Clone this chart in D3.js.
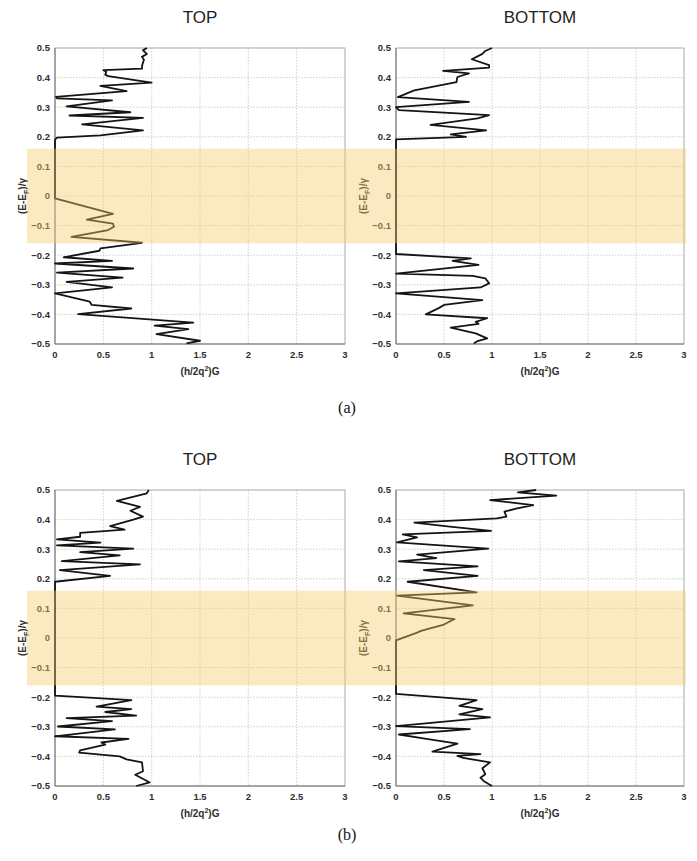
<!DOCTYPE html>
<html>
<head>
<meta charset="utf-8">
<script src="https://cdn.jsdelivr.net/npm/d3@7"></script>
<style>
  html, body { margin: 0; padding: 0; background: #fff; }
  svg { display: block; }
</style>
</head>
<body>
<svg id="chart" width="697" height="861"></svg>
<script>
// ---------- DATA ([E, G] pairs, top to bottom) ----------
const panelTitles = ["TOP", "BOTTOM", "TOP", "BOTTOM"];
const figureLabels = ["(a)", "(b)"];
const xTicks = [0, 0.5, 1, 1.5, 2, 2.5, 3];
const yTicks = [0.5, 0.4, 0.3, 0.2, 0.1, 0, -0.1, -0.2, -0.3, -0.4, -0.5];
const bandRange = [0.16, -0.16];

const aTop = [
  [0.500,0.95],[0.492,0.91],[0.480,0.95],[0.470,0.90],[0.460,0.92],[0.440,0.90],[0.430,0.90],
  [0.425,0.50],[0.420,0.53],[0.410,0.52],[0.405,0.55],[0.383,1.00],[0.372,0.47],[0.354,0.74],
  [0.335,0.01],[0.330,0.02],[0.323,0.59],[0.303,0.12],[0.283,0.78],[0.272,0.15],[0.264,0.91],
  [0.242,0.28],[0.222,0.91],[0.205,0.47],[0.197,0.02],[0.190,0.00],[-0.008,0.00],[-0.060,0.60],
  [-0.080,0.33],[-0.093,0.60],[-0.104,0.61],[-0.115,0.55],[-0.138,0.17],[-0.158,0.90],[-0.177,0.47],
  [-0.185,0.46],[-0.207,0.09],[-0.219,0.59],[-0.228,0.00],[-0.245,0.81],[-0.259,0.02],[-0.276,0.70],
  [-0.290,0.12],[-0.309,0.59],[-0.329,0.00],[-0.357,0.36],[-0.368,0.38],[-0.380,0.79],[-0.399,0.24],
  [-0.428,1.43],[-0.438,1.03],[-0.450,1.38],[-0.467,1.05],[-0.489,1.50],[-0.498,1.36]
];
const aBottom = [
  [0.500,1.00],[0.490,0.93],[0.480,0.90],[0.462,0.79],[0.442,0.97],[0.434,0.97],[0.423,0.49],
  [0.414,0.76],[0.402,0.64],[0.385,0.63],[0.357,0.19],[0.334,0.02],[0.318,0.76],[0.300,0.00],
  [0.290,0.03],[0.273,0.97],[0.262,0.85],[0.240,0.36],[0.222,0.94],[0.208,0.57],[0.200,0.73],
  [0.191,0.00],[-0.196,0.00],[-0.211,0.78],[-0.219,0.59],[-0.233,0.86],[-0.262,0.00],[-0.270,0.80],
  [-0.278,0.93],[-0.295,0.97],[-0.309,0.88],[-0.329,0.00],[-0.352,0.90],[-0.368,0.50],[-0.378,0.45],
  [-0.400,0.31],[-0.413,0.95],[-0.425,0.83],[-0.432,0.86],[-0.445,0.57],[-0.464,0.83],[-0.481,0.95],
  [-0.490,0.85],[-0.498,0.81]
];
const bTop = [
  [0.500,0.97],[0.489,0.95],[0.463,0.64],[0.443,0.88],[0.430,0.78],[0.410,0.91],[0.400,0.81],
  [0.378,0.57],[0.366,0.72],[0.355,0.26],[0.342,0.26],[0.333,0.02],[0.322,0.47],[0.313,0.02],
  [0.302,0.81],[0.290,0.26],[0.279,0.67],[0.260,0.07],[0.249,0.88],[0.229,0.05],[0.210,0.57],
  [0.190,0.00],[-0.195,0.00],[-0.210,0.79],[-0.232,0.43],[-0.240,0.79],[-0.250,0.52],[-0.262,0.84],
  [-0.271,0.12],[-0.281,0.59],[-0.299,0.03],[-0.309,0.62],[-0.332,0.00],[-0.341,0.76],[-0.353,0.48],
  [-0.360,0.52],[-0.380,0.26],[-0.387,0.25],[-0.400,0.67],[-0.410,0.74],[-0.420,0.90],[-0.450,0.91],
  [-0.462,0.83],[-0.488,0.98],[-0.500,0.84]
];
const bBottom = [
  [0.500,1.46],[0.492,1.27],[0.481,1.67],[0.466,0.98],[0.449,1.43],[0.437,1.25],[0.427,1.13],
  [0.410,1.15],[0.404,1.05],[0.390,0.19],[0.376,0.56],[0.362,0.99],[0.350,0.07],[0.340,0.22],
  [0.323,0.01],[0.302,0.96],[0.282,0.22],[0.270,0.42],[0.259,0.03],[0.242,0.85],[0.229,0.29],
  [0.210,0.85],[0.190,0.12],[0.154,0.84],[0.143,0.01],[0.110,0.80],[0.083,0.08],[0.064,0.61],
  [0.044,0.49],[0.024,0.26],[0.018,0.22],[-0.008,0.00],[-0.189,0.00],[-0.210,0.84],[-0.229,0.66],
  [-0.240,0.90],[-0.258,0.66],[-0.268,0.98],[-0.298,0.00],[-0.308,0.77],[-0.326,0.03],[-0.340,0.30],
  [-0.357,0.64],[-0.384,0.38],[-0.392,0.88],[-0.398,0.64],[-0.405,0.70],[-0.420,0.98],[-0.440,0.90],
  [-0.460,0.93],[-0.472,0.88],[-0.485,0.92],[-0.500,1.00]
];
const panelData = [aTop, aBottom, bTop, bBottom];

// ---------- LAYOUT ----------
const svg = d3.select("#chart");
const H = 296;
const panels = [
  { x0: 55,  y0: 48,  w: 290 },
  { x0: 396, y0: 48,  w: 288 },
  { x0: 55,  y0: 490, w: 290 },
  { x0: 396, y0: 490, w: 288 }
];
const sansFont = "'Liberation Sans', Arial, Helvetica, sans-serif";

const scales = panels.map(p => ({
  x: d3.scaleLinear().domain([0, 3]).range([p.x0, p.x0 + p.w]),
  y: d3.scaleLinear().domain([-0.5, 0.5]).range([p.y0 + H, p.y0])
}));

panels.forEach((p, i) => {
  const sx = scales[i].x, sy = scales[i].y;
  const g = svg.append("g");

  // grid
  g.selectAll(".gx").data(xTicks.slice(1, -1)).enter().append("line")
    .attr("x1", d => sx(d)).attr("x2", d => sx(d))
    .attr("y1", p.y0).attr("y2", p.y0 + H)
    .attr("stroke", "#c4c4c4").attr("stroke-width", 0.8).attr("stroke-dasharray", "1.5,1.5");
  g.selectAll(".gy").data(yTicks.slice(1, -1)).enter().append("line")
    .attr("y1", d => sy(d)).attr("y2", d => sy(d))
    .attr("x1", p.x0).attr("x2", p.x0 + p.w)
    .attr("stroke", "#c4c4c4").attr("stroke-width", 0.8).attr("stroke-dasharray", "1.5,1.5");

  // box
  g.append("rect").attr("x", p.x0).attr("y", p.y0).attr("width", p.w).attr("height", H)
    .attr("fill", "none").attr("stroke", "#a8a8a8").attr("stroke-width", 1);
  g.append("line").attr("x1", p.x0).attr("x2", p.x0).attr("y1", p.y0).attr("y2", p.y0 + H)
    .attr("stroke", "#777").attr("stroke-width", 1);
  g.append("line").attr("x1", p.x0).attr("x2", p.x0 + p.w).attr("y1", p.y0 + H).attr("y2", p.y0 + H)
    .attr("stroke", "#777").attr("stroke-width", 1);

  // curve
  const line = d3.line().x(d => sx(d[1])).y(d => sy(d[0]));
  g.append("path").datum(panelData[i]).attr("d", line)
    .attr("fill", "none").attr("stroke", "#141414").attr("stroke-width", 1.8)
    .attr("stroke-linejoin", "round");

  // tick labels
  g.selectAll(".xt").data(xTicks).enter().append("text")
    .attr("x", d => sx(d)).attr("y", p.y0 + H + 14)
    .attr("text-anchor", "middle")
    .style("font-family", sansFont).style("font-size", "9.5px").style("font-weight", "bold")
    .attr("fill", "#2e2e2e").text(d => d3.format("~g")(d));
  g.selectAll(".yt").data(yTicks).enter().append("text")
    .attr("x", p.x0 - 5).attr("y", d => sy(d)).attr("dy", "0.35em")
    .attr("text-anchor", "end")
    .style("font-family", sansFont).style("font-size", "9.5px").style("font-weight", "bold")
    .attr("fill", "#2e2e2e").text(d => d === 0 ? "0" : d3.format(".1f")(d));

  // title
  g.append("text").attr("x", p.x0 + p.w / 2).attr("y", p.y0 - 25)
    .attr("text-anchor", "middle")
    .style("font-family", sansFont).style("font-size", "17px")
    .attr("fill", "#222").text(panelTitles[i]);

  // x label
  const xl = g.append("text").attr("x", p.x0 + p.w / 2).attr("y", p.y0 + H + 31)
    .attr("text-anchor", "middle")
    .style("font-family", sansFont).style("font-size", "10px").style("font-weight", "bold")
    .attr("fill", "#2e2e2e");
  xl.append("tspan").text("(h/2q");
  xl.append("tspan").attr("dy", "-4").style("font-size", "7px").text("2");
  xl.append("tspan").attr("dy", "4").text(")G");

  // y label
  const yl = g.append("text")
    .attr("transform", `translate(${p.x0 - 29},${p.y0 + H / 2}) rotate(-90)`)
    .attr("text-anchor", "middle")
    .style("font-family", sansFont).style("font-size", "10px").style("font-weight", "bold")
    .attr("fill", "#2e2e2e");
  yl.append("tspan").text("(E-E");
  yl.append("tspan").attr("dy", "3").style("font-size", "7px").text("F");
  yl.append("tspan").attr("dy", "-3").text(")/γ");
});

// highlighted band (semi-transparent overlay spanning both panels of a row)
[0, 2].forEach(i => {
  const sy = scales[i].y;
  svg.append("rect")
    .attr("x", 27).attr("width", 686 - 27)
    .attr("y", sy(bandRange[0])).attr("height", sy(bandRange[1]) - sy(bandRange[0]))
    .attr("fill", "rgb(246,204,108)").attr("fill-opacity", 0.42);
});

// figure labels
[[figureLabels[0], 413], [figureLabels[1], 840]].forEach(([t, y]) => {
  svg.append("text").attr("x", 347).attr("y", y).attr("text-anchor", "middle")
    .style("font-family", "'Liberation Serif', 'Times New Roman', serif").style("font-size", "16px")
    .attr("fill", "#111").text(t);
});
</script>
</body>
</html>
